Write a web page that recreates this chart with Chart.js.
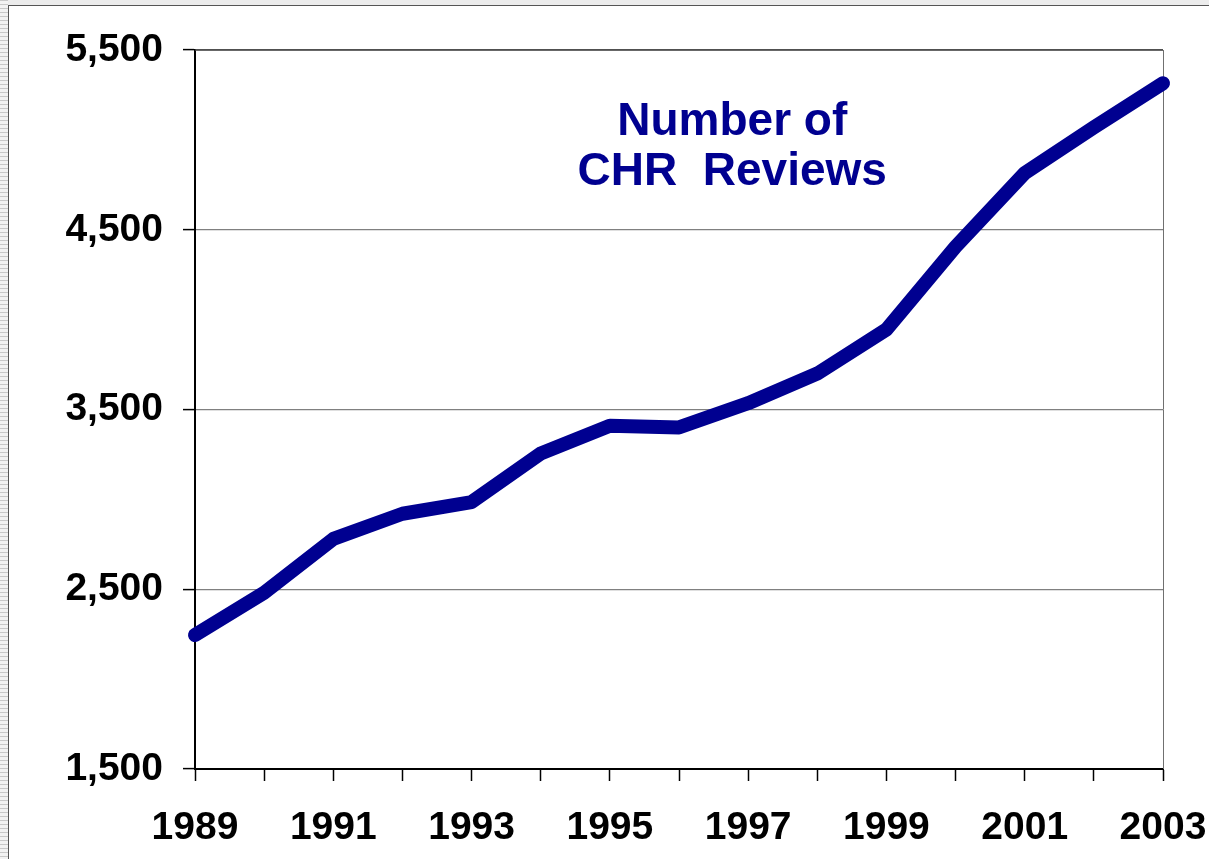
<!DOCTYPE html>
<html>
<head>
<meta charset="utf-8">
<script src="https://cdn.jsdelivr.net/npm/chart.js@4/dist/chart.umd.min.js"></script>
<style>
  html, body { margin: 0; padding: 0; background: #ffffff; }
  .page { position: relative; width: 1209px; height: 859px; overflow: hidden; }
  .topStrip { position: absolute; left: 0; top: 0; width: 1209px; height: 5px; background: #ececec; }
  .leftStrip { position: absolute; left: 0; top: 0; width: 8px; height: 859px;
    background: repeating-linear-gradient(to bottom, #c8c8c8 0 1px, #f2f2f2 1px 4px); }
  .frame { position: absolute; left: 8px; top: 5px; right: 0; bottom: 0;
    border-left: 1px solid #555; border-top: 1px solid #555; background: #fff; }
  .chart-container { position: absolute; left: 0; top: 0; width: 1209px; height: 859px; }
</style>
</head>
<body>
<div class="page">
  <div class="topStrip"></div>
  <div class="leftStrip"></div>
  <div class="frame"></div>
  <div class="chart-container"><canvas id="reviewsChart"></canvas></div>
</div>
<script>
const years = ['1989', '1990', '1991', '1992', '1993', '1994', '1995', '1996',
               '1997', '1998', '1999', '2000', '2001', '2002', '2003'];
const reviews = [2245, 2480, 2780, 2920, 2985, 3255, 3410, 3400,
                 3535, 3700, 3945, 4405, 4815, 5070, 5315];
const yTicks = [1500, 2500, 3500, 4500, 5500];
const titleLines = ['Number of', 'CHR  Reviews'];

const NAVY = '#000090';
const FONT = "'Liberation Sans', Arial, Helvetica, sans-serif";

Chart.defaults.color = '#000000';
Chart.defaults.font.family = FONT;

// grey frame on the top and right of the plot area
const plotFrame = {
  id: 'plotFrame',
  beforeDatasetsDraw(chart) {
    const { ctx, chartArea: a } = chart;
    ctx.save();
    ctx.strokeStyle = '#404040';
    ctx.lineWidth = 1.5;
    ctx.beginPath();
    ctx.moveTo(a.left, a.top);
    ctx.lineTo(a.right, a.top);
    ctx.stroke();
    ctx.strokeStyle = '#707070';
    ctx.lineWidth = 1;
    ctx.beginPath();
    ctx.moveTo(a.right + 0.5, a.top);
    ctx.lineTo(a.right + 0.5, a.bottom);
    ctx.stroke();
    ctx.restore();
  }
};

// the in-plot title "Number of / CHR Reviews"
const innerTitle = {
  id: 'innerTitle',
  afterDatasetsDraw(chart) {
    const { ctx, chartArea: a } = chart;
    const cx = a.left + a.width * 0.555;
    ctx.save();
    ctx.fillStyle = NAVY;
    ctx.font = `bold 46px ${FONT}`;
    ctx.textAlign = 'center';
    ctx.textBaseline = 'alphabetic';
    titleLines.forEach((line, i) => {
      ctx.fillText(line, cx, a.top + 85 + i * 50);
    });
    ctx.restore();
  }
};

const canvas = document.getElementById('reviewsChart');
const ctx = canvas.getContext('2d');

new Chart(ctx, {
  type: 'line',
  data: {
    labels: years,
    datasets: [{
      label: 'Number of CHR Reviews',
      data: reviews,
      borderColor: NAVY,
      backgroundColor: NAVY,
      borderWidth: 14,
      borderCapStyle: 'round',
      borderJoinStyle: 'round',
      pointRadius: 0,
      pointHoverRadius: 0,
      tension: 0,
      fill: false,
      clip: false
    }]
  },
  options: {
    responsive: true,
    maintainAspectRatio: false,
    animation: false,
    events: [],
    layout: { padding: { left: 0, top: 50, right: 46, bottom: 0 } },
    plugins: {
      legend: { display: false },
      title: { display: false },
      tooltip: { enabled: false }
    },
    scales: {
      x: {
        type: 'category',
        offset: false,
        grid: {
          drawOnChartArea: false,
          drawTicks: true,
          tickLength: 12,
          tickColor: '#000000',
          tickWidth: 1.5
        },
        border: { color: '#000000', width: 2 },
        ticks: {
          autoSkip: false,
          maxRotation: 0,
          padding: 24,
          font: { size: 39, weight: 'bold' },
          color: '#000000',
          callback: function(value, index) {
            const y = years[index];
            return Number(y) % 2 === 1 ? y : '';
          }
        },
        afterFit: scale => {
          scale.height = 90;
          scale.paddingLeft = 0;
          scale.paddingRight = 0;
        }
      },
      y: {
        min: yTicks[0],
        max: yTicks[yTicks.length - 1],
        afterBuildTicks: scale => {
          scale.ticks = yTicks.map(v => ({ value: v }));
        },
        grid: {
          color: '#808080',
          lineWidth: 1.2,
          drawTicks: true,
          tickLength: 12,
          tickColor: '#000000',
          tickWidth: 1.5
        },
        border: { color: '#000000', width: 2 },
        ticks: {
          padding: 20,
          font: { size: 39, weight: 'bold' },
          color: '#000000',
          callback: value => value.toLocaleString('en-US')
        },
        afterFit: scale => {
          scale.width = 195;
          scale.paddingTop = 0;
          scale.paddingBottom = 0;
        }
      }
    }
  },
  plugins: [plotFrame, innerTitle]
});
</script>
</body>
</html>
